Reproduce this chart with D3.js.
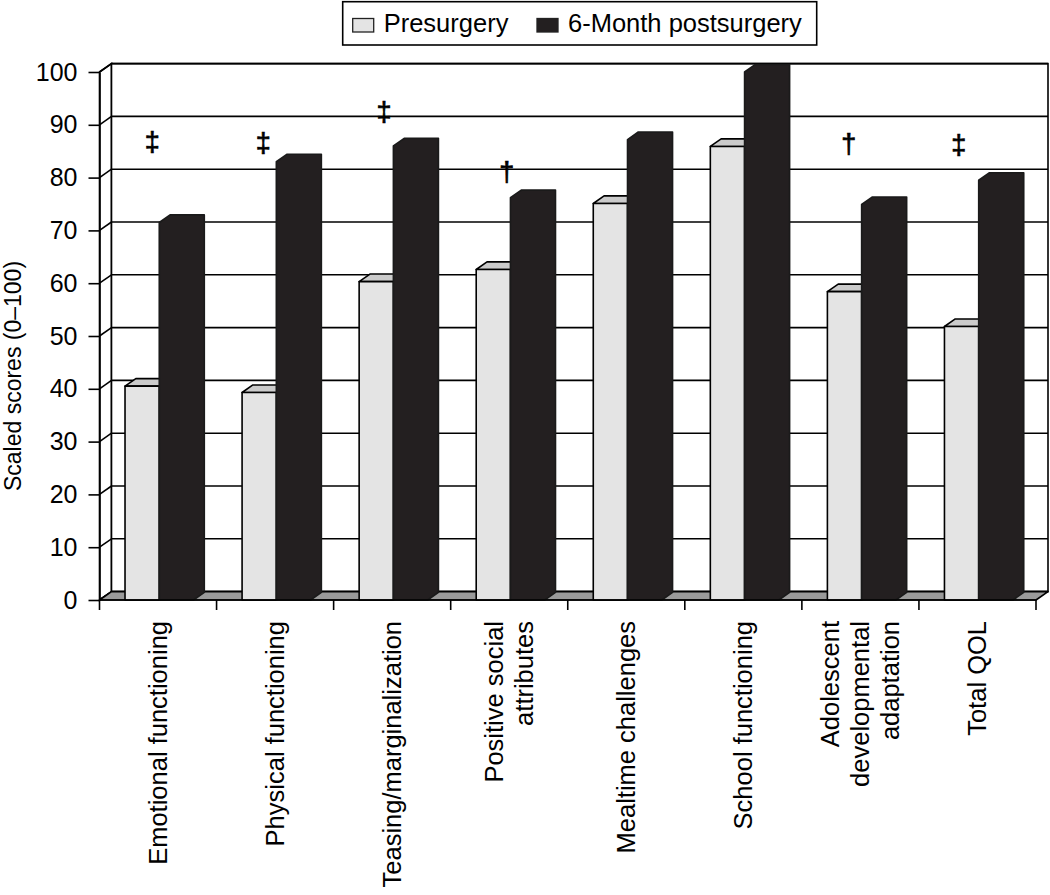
<!DOCTYPE html>
<html><head><meta charset="utf-8">
<script src="https://cdn.jsdelivr.net/npm/d3@7"></script>
<style>
body{margin:0;background:#fff}
svg{display:block}
text{font-family:"Liberation Sans",Arial,Helvetica,sans-serif;fill:#000}
</style>
</head><body>
<svg id="chart" width="1050" height="895"></svg>
<script>
// ---- data ----
const categories = ["Emotional functioning","Physical functioning","Teasing/marginalization","Positive social attributes","Mealtime challenges","School functioning","Adolescent developmental adaptation","Total QOL"];
const categoryLines = [["Emotional functioning"],["Physical functioning"],["Teasing/marginalization"],["Positive social","attributes"],["Mealtime challenges"],["School functioning"],["Adolescent","developmental","adaptation"],["Total QOL"]];
const series = ["Presurgery","6-Month postsurgery"];
const presurgery = [40.5, 39.3, 60.3, 62.6, 75.1, 85.9, 58.4, 51.8];
const postsurgery = [71.5, 83.0, 86.0, 76.2, 87.2, 100, 74.9, 79.5];
const yTicks = [0,10,20,30,40,50,60,70,80,90,100];
const yLabel = "Scaled scores (0\u2013100)";
const markCategories = [0,1,2,3,6,7];
const markSymbols = ["\u2021","\u2021","\u2021","\u2020","\u2020","\u2021"];
const markValues = [86.5, 86.4, 92.3, 80.9, 86.2, 86.0];
const markBandPos = [0.45, 0.40, 0.43, 0.48, 0.40, 0.34];

// ---- layout ----
const svg = d3.select("#chart");
const left = 99.5, right = 1036, yBottom = 600, yTop = 72;
const dx = 12, dy = -8.4, barDepth = 0.9;
const sw = 1.6;

const x0 = d3.scaleBand().domain(categories).range([left, right]).padding(0);
const bw = x0.bandwidth();
const x1 = d3.scaleBand().domain(series).range([bw*0.218, bw*0.803]).padding(0);
const y = d3.scaleLinear().domain([0,100]).range([yBottom, yTop]);
const frontColor = d3.scaleOrdinal().domain(series).range(["#e4e4e4","#231f20"]);
const topColor = d3.scaleOrdinal().domain(series).range(["#cbcbcb","#231f20"]);
const line = d3.line();

// side wall
svg.append("path")
  .attr("d", line([[left,y(100)],[left+dx,y(100)+dy],[left+dx,y(0)+dy],[left,y(0)]]) + "Z")
  .attr("fill","#fff").attr("stroke","#000").attr("stroke-width",sw);
// back wall
svg.append("rect")
  .attr("x", left+dx).attr("y", y(100)+dy)
  .attr("width", right-left).attr("height", y(0)-y(100))
  .attr("fill","#fff").attr("stroke","#000").attr("stroke-width",sw);
// gridlines on back wall and side wall
const grid = svg.append("g").attr("stroke","#000").attr("stroke-width",sw);
grid.selectAll("line.back").data(yTicks).join("line").attr("class","back")
  .attr("x1", left+dx).attr("x2", right+dx)
  .attr("y1", d => y(d)+dy).attr("y2", d => y(d)+dy);
grid.selectAll("line.side").data(yTicks).join("line").attr("class","side")
  .attr("x1", left).attr("x2", left+dx)
  .attr("y1", d => y(d)).attr("y2", d => y(d)+dy);
// floor
svg.append("path")
  .attr("d", line([[left,y(0)],[right,y(0)],[right+dx,y(0)+dy],[left+dx,y(0)+dy]]) + "Z")
  .attr("fill","#9a9a9a").attr("stroke","#000").attr("stroke-width",sw).attr("stroke-linejoin","round");

// bars
const bars = [];
categories.forEach((c,i) => {
  bars.push({cat:c, s:series[0], v:presurgery[i]});
  bars.push({cat:c, s:series[1], v:postsurgery[i]});
});
const bdx = dx*barDepth, bdy = dy*barDepth;
const bg = svg.append("g").attr("stroke","#000").attr("stroke-width",sw).attr("stroke-linejoin","round");
bars.forEach(b => {
  const xf = x0(b.cat) + x1(b.s), w = x1.bandwidth();
  const yv = y(b.v), y0 = y(0);
  const g = bg.append("g");
  if (b.s === series[1]) {
    // dark bar: a single silhouette
    g.append("path").attr("d", line([[xf,y0],[xf,yv],[xf+bdx,yv+bdy],[xf+w+bdx,yv+bdy],[xf+w+bdx,y0+bdy],[xf+w,y0]])+"Z")
      .attr("fill", frontColor(b.s)).attr("stroke","#1a1a1a");
  } else {
    g.append("path").attr("d", line([[xf+w,yv],[xf+w+bdx,yv+bdy],[xf+w+bdx,y0+bdy],[xf+w,y0]])+"Z")
      .attr("fill", "#b5b5b5");
    g.append("path").attr("d", line([[xf,yv],[xf+bdx,yv+bdy],[xf+w+bdx,yv+bdy],[xf+w,yv]])+"Z")
      .attr("fill", topColor(b.s));
    g.append("rect").attr("x", xf).attr("y", yv).attr("width", w).attr("height", y0-yv)
      .attr("fill", frontColor(b.s));
  }
});

// front x axis
const xa = svg.append("g").attr("stroke","#000").attr("stroke-width",sw);
xa.append("line").attr("x1",left).attr("x2",right).attr("y1",y(0)).attr("y2",y(0));
xa.selectAll("line.tick").data(d3.range(categories.length+1)).join("line").attr("class","tick")
  .attr("x1", i => left + i*x0.step()).attr("x2", i => left + i*x0.step())
  .attr("y1", y(0)).attr("y2", y(0)+10);

// y axis
const ya = svg.append("g").attr("transform",`translate(${left},0)`)
  .call(d3.axisLeft(y).tickValues(yTicks).tickSize(11).tickSizeOuter(0).tickPadding(11));
ya.selectAll("path,line").attr("stroke","#000").attr("stroke-width",sw);
ya.selectAll("text").style("font-size","25px").attr("font-family",null);

// category labels
categories.forEach((c,i) => {
  const lines = categoryLines[i];
  const g = svg.append("g").attr("transform",`translate(${x0(c)+bw/2},621) rotate(-90)`);
  lines.forEach((t,j) => {
    g.append("text").attr("text-anchor","end").attr("x",0)
      .attr("y", (j-(lines.length-1)/2)*30).attr("dy","0.35em")
      .style("font-size","25.5px").text(t);
  });
});

// y label
svg.append("text").attr("transform","translate(21,376) rotate(-90)")
  .attr("text-anchor","middle").style("font-size","23px").text(yLabel);

// significance marks
markCategories.forEach((ci,k) => {
  svg.append("text")
    .attr("x", x0(categories[ci]) + bw*markBandPos[k])
    .attr("y", y(markValues[k])).attr("dy","0.3em")
    .attr("text-anchor","middle").style("font-size","27px")
    .style("fill","#000").style("stroke","#000").style("stroke-width","0.7px")
    .text(markSymbols[k]);
});

// legend
const lg = svg.append("g");
lg.append("rect").attr("x",342.7).attr("y",1.7).attr("width",474).attr("height",43.3)
  .attr("fill","#fff").attr("stroke","#000").attr("stroke-width",sw);
const legendX = [352.7, 537];
series.forEach((s,i) => {
  lg.append("rect").attr("x",legendX[i]).attr("y",18.5).attr("width",21).attr("height",13.5)
    .attr("fill",frontColor(s)).attr("stroke","#222").attr("stroke-width",1.3);
  lg.append("text").attr("x",legendX[i]+31).attr("y",31.5).style("font-size","25.5px").text(s);
});
</script>
</body></html>
